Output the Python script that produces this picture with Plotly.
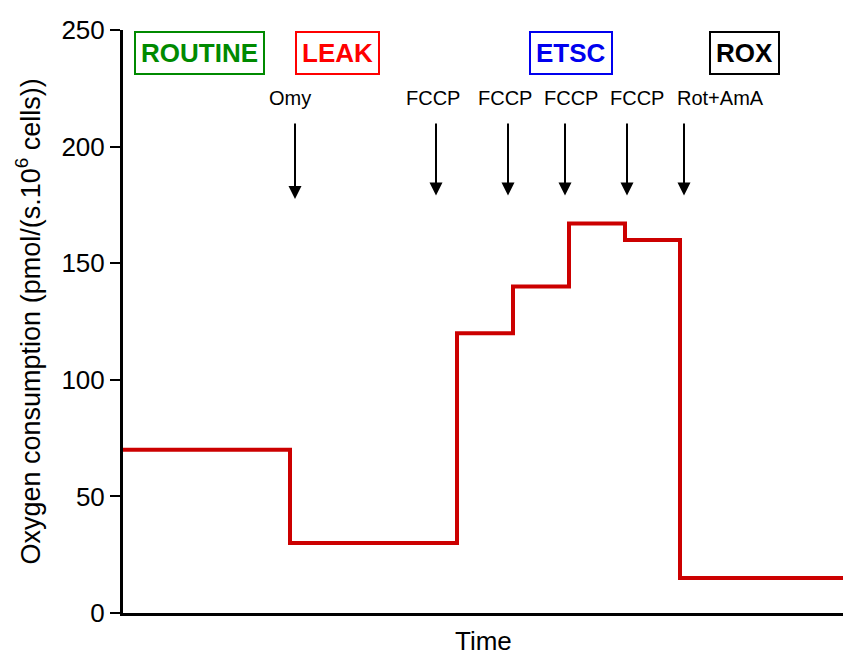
import plotly.graph_objects as go

# Data
times = [0, 16.7, 33.4, 39.0, 44.6, 50.2, 55.7, 72.0]
o2_flux = [70, 30, 120, 140, 167, 160, 15, 15]

state_labels = ["ROUTINE", "LEAK", "ETSC", "ROX"]
state_x = [7.65, 21.45, 44.8, 62.1]
state_y = [240, 240, 240, 240]
state_colors = ["#008a00", "#ff0000", "#0000ee", "#000000"]

inj_labels = ["Omy", "FCCP", "FCCP", "FCCP", "FCCP", "Rot+AmA"]
inj_label_x = [16.7, 31.0, 38.2, 44.8, 51.4, 59.7]
inj_label_y = [221, 221, 221, 221, 221, 221]
arrow_x = [17.2, 31.3, 38.5, 44.2, 50.4, 56.1]
arrow_tail_y = [210.5, 210.5, 210.5, 210.5, 210.5, 210.5]
arrow_tip_y = [177.5, 179, 179, 179, 179, 179]

yticks = [0, 50, 100, 150, 200, 250]

FONT = "Liberation Sans, Arial, sans-serif"

fig = go.Figure()
fig.add_trace(go.Scatter(
    x=times, y=o2_flux, mode="lines", line_shape="hv",
    line=dict(color="#cc0000", width=4), showlegend=False, cliponaxis=False,
))

annotations = []
for t, x, y, c in zip(state_labels, state_x, state_y, state_colors):
    annotations.append(dict(
        x=x, y=y, xref="x", yref="y", text="<b>%s</b>" % t, showarrow=False,
        font=dict(family=FONT, size=26, color=c),
        bordercolor=c, borderwidth=2, borderpad=5, bgcolor="white",
        xanchor="center", yanchor="middle",
    ))
for t, x, y in zip(inj_labels, inj_label_x, inj_label_y):
    annotations.append(dict(
        x=x, y=y, xref="x", yref="y", text=t, showarrow=False,
        font=dict(family=FONT, size=20, color="black"),
        xanchor="center", yanchor="middle",
    ))
for x, yt, yh in zip(arrow_x, arrow_tail_y, arrow_tip_y):
    annotations.append(dict(
        x=x, y=yh, ax=x, ay=yt, xref="x", yref="y", axref="x", ayref="y",
        text="", showarrow=True, arrowhead=2, arrowsize=1.3, arrowwidth=2,
        arrowcolor="black",
    ))
# axis titles
annotations.append(dict(
    x=0.5, y=0, xref="paper", yref="paper", text="Time", showarrow=False,
    font=dict(family=FONT, size=26, color="black"),
    xanchor="center", yanchor="top", xshift=0, yshift=-11,
))
annotations.append(dict(
    x=0, y=0.5, xref="paper", yref="paper",
    text="Oxygen consumption (pmol/(s.10<sup>6</sup> cells))", showarrow=False,
    font=dict(family=FONT, size=27, color="black"), textangle=-90,
    xanchor="center", yanchor="middle", xshift=-95, yshift=0,
))

fig.update_layout(
    width=843, height=657,
    margin=dict(l=123, r=0, t=30, b=44),
    plot_bgcolor="white", paper_bgcolor="white",
    annotations=annotations,
    font=dict(family=FONT, color="black"),
    xaxis=dict(range=[0, 72], showline=True, linecolor="black", linewidth=3,
               showticklabels=False, ticks="", showgrid=False, zeroline=False),
    yaxis=dict(range=[0, 250], tickvals=yticks, showline=True, linecolor="black",
               linewidth=3, ticks="outside", ticklen=10, tickwidth=2,
               tickcolor="black", showgrid=False, zeroline=False,
               tickfont=dict(family=FONT, size=26, color="black")),
)

fig.write_html("out.html")
